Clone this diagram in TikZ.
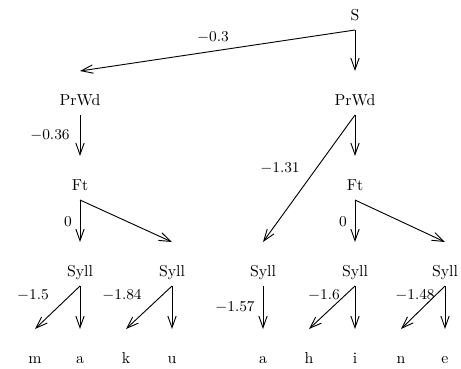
\documentclass[tikz,border=0pt]{standalone}
\usetikzlibrary{arrows.meta}
\begin{document}
\begin{tikzpicture}[
  x=0.6pt,y=-0.6pt,
  cat/.style={anchor=base, inner sep=0pt, font=\fontsize{9.5}{11}\selectfont},
  seg/.style={cat},
  wt/.style={inner sep=0pt, font=\fontsize{9}{10}\selectfont},
  arc/.style={-{Straight Barb[length=7pt,width=5pt]}, line width=0.55pt, draw=black}
]
  \useasboundingbox (0,0) rectangle (461,368);

  % categories
  \node[cat] (s)   at (355,20)  {S};
  \node[cat] (pwl) at (80,105)  {PrWd};
  \node[cat] (pwr) at (355,105) {PrWd};
  \node[cat] (ftl) at (80,190)  {Ft};
  \node[cat] (ftr) at (355,190) {Ft};
  \node[cat] (sy1) at (80,276)  {Syll};
  \node[cat] (sy2) at (172,276) {Syll};
  \node[cat] (sy3) at (263,276) {Syll};
  \node[cat] (sy4) at (355,276) {Syll};
  \node[cat] (sy5) at (445,276) {Syll};

  % segments
  \node[seg] (m)  at (35,363)  {m};
  \node[seg] (a1) at (80,363)  {a};
  \node[seg] (k)  at (126,363) {k};
  \node[seg] (u)  at (172,363) {u};
  \node[seg] (a2) at (263,363) {a};
  \node[seg] (h)  at (309,363) {h};
  \node[seg] (i)  at (355,363) {i};
  \node[seg] (n)  at (401,363) {n};
  \node[seg] (e)  at (445,363) {e};

  \draw[arc] ([yshift=-6pt]s.base) -- ([yshift=20.4pt]pwl.base);
  \draw[arc] ([yshift=-6pt]s.base) -- ([yshift=20.4pt]pwr.base);
  \draw[arc] ([yshift=-6pt]pwl.base) -- ([yshift=20.4pt]ftl.base);
  \draw[arc] ([yshift=-6pt]pwr.base) -- ([yshift=20.4pt]ftr.base);
  \draw[arc] ([yshift=-6pt]pwr.base) -- ([yshift=20.4pt]sy3.base);
  \draw[arc] ([yshift=-6pt]ftl.base) -- ([yshift=20.4pt]sy1.base);
  \draw[arc] ([yshift=-6pt]ftl.base) -- ([yshift=20.4pt]sy2.base);
  \draw[arc] ([yshift=-6pt]ftr.base) -- ([yshift=20.4pt]sy4.base);
  \draw[arc] ([yshift=-6pt]ftr.base) -- ([yshift=20.4pt]sy5.base);
  \draw[arc] ([yshift=-6pt]sy1.base) -- ([yshift=20.4pt]m.base);
  \draw[arc] ([yshift=-6pt]sy1.base) -- ([yshift=20.4pt]a1.base);
  \draw[arc] ([yshift=-6pt]sy2.base) -- ([yshift=20.4pt]k.base);
  \draw[arc] ([yshift=-6pt]sy2.base) -- ([yshift=20.4pt]u.base);
  \draw[arc] ([yshift=-6pt]sy3.base) -- ([yshift=20.4pt]a2.base);
  \draw[arc] ([yshift=-6pt]sy4.base) -- ([yshift=20.4pt]h.base);
  \draw[arc] ([yshift=-6pt]sy4.base) -- ([yshift=20.4pt]i.base);
  \draw[arc] ([yshift=-6pt]sy5.base) -- ([yshift=20.4pt]n.base);
  \draw[arc] ([yshift=-6pt]sy5.base) -- ([yshift=20.4pt]e.base);

  % weights
  \node[wt] (w1) at (213,37)  {$-0.3$};
  \node[wt] (w2) at (50,135)  {$-0.36$};
  \node[wt] (w3) at (280,168) {$-1.31$};
  \node[wt] (w4) at (68,222)  {$0$};
  \node[wt] (w5) at (343,222) {$0$};
  \node[wt] (w6) at (33,295)  {$-1.5$};
  \node[wt] (w7) at (122,295) {$-1.84$};
  \node[wt] (w8) at (235,307) {$-1.57$};
  \node[wt] (w9) at (324,295) {$-1.6$};
  \node[wt] (w10) at (415,295) {$-1.48$};
\end{tikzpicture}
\end{document}
